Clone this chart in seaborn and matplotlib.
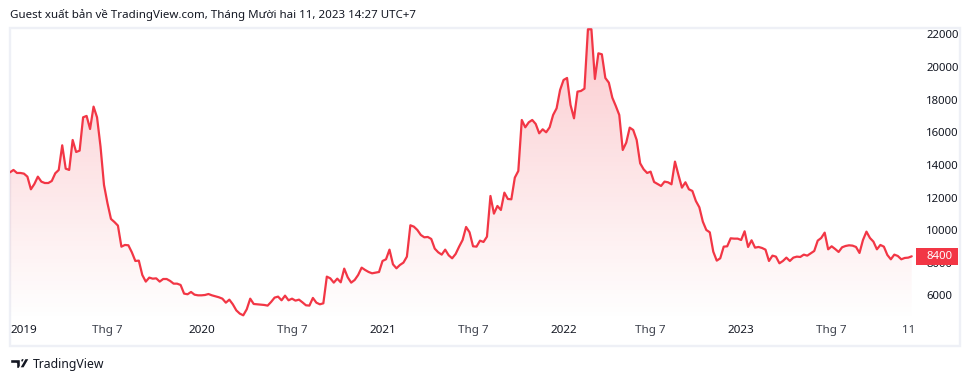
import numpy as np
import pandas as pd
import matplotlib
matplotlib.use("Agg")
import matplotlib.pyplot as plt
import matplotlib.dates as mdates
from matplotlib.colors import LinearSegmentedColormap
from matplotlib.patches import Rectangle, Polygon, Circle
import seaborn as sns

prices = [
    13546, 13690, 13505, 13505, 13465, 13280, 12505, 12830, 13280, 12975,
    12890, 12890, 13015, 13485, 13690, 15200, 13770, 13690, 15525, 14790,
    14875, 16915, 17000, 16200, 17570, 16915, 15120, 12770, 11650, 10690,
    10500, 10280, 8990, 9095, 9075, 8645, 8115, 8135, 7255, 6850,
    7095, 7030, 7050, 6850, 7010, 7010, 6890, 6725, 6725, 6645,
    6115, 6075, 6215, 6050, 6010, 6010, 6030, 6090, 6010, 5950,
    5890, 5805, 5560, 5745, 5460, 5090, 4890, 4785, 5155, 5805,
    5480, 5460, 5440, 5420, 5380, 5605, 5870, 5930, 5705, 5990,
    5705, 5805, 5685, 5745, 5580, 5400, 5380, 5850, 5560, 5460,
    5520, 7155, 7050, 6787, 7032, 6807, 7645, 7115, 6787, 6950,
    7257, 7706, 7563, 7440, 7359, 7400, 7440, 8114, 8217, 8808,
    7910, 7665, 7870, 8012, 8380, 10300, 10218, 10014, 9707, 9564,
    9585, 9462, 8870, 8645, 8503, 8808, 8462, 8278, 8543, 8992,
    9400, 10197, 9870, 9013, 8992, 9360, 9278, 9605, 12096, 11014,
    11484, 11239, 12300, 11912, 11892, 13220, 13628, 16752, 16303, 16609,
    16752, 16507, 15935, 16180, 15997, 16303, 17058, 17467, 18590, 19203,
    19325, 17671, 16854, 18488, 18529, 18672, 22306, 22306, 19264, 20836,
    20775, 19325, 19039, 18120, 17610, 17058, 14914, 15363, 16282, 16140,
    15527, 14097, 13730, 13505, 13587, 12954, 12832, 12709, 12975, 12934,
    12811, 14200, 13383, 12607, 12934, 12505, 12403, 11790, 11402, 10524,
    10014, 9870, 8686, 8135, 8278, 8992, 9013, 9503, 9483, 9483,
    9400, 9932, 8972, 9380, 8931, 8972, 8911, 8808, 8114, 8441,
    8380, 7972, 8114, 8319, 8114, 8319, 8380, 8360, 8503, 8441,
    8584, 8727, 9360, 9523, 9850, 8829, 9013, 8849, 8666, 8952,
    9033, 9074, 9054, 8972, 8605, 9400, 9911, 9523, 9299, 8829,
    9095, 8992, 8482, 8217, 8503, 8421, 8217, 8299, 8319, 8400,
]
tick_dates = ["2019-01-21", "2019-07-08", "2020-01-13", "2020-07-13", "2021-01-11", "2021-07-12",
              "2022-01-10", "2022-07-04", "2023-01-02", "2023-07-03", "2023-12-04"]
tick_labels = ["2019", "Thg 7", "2020", "Thg 7", "2021", "Thg 7", "2022", "Thg 7", "2023", "Thg 7", "11"]
price_ticks = [6000, 8000, 10000, 12000, 14000, 16000, 18000, 20000, 22000]
last_price = 8400
title = "Guest xuất bản về TradingView.com, Tháng Mười hai 11, 2023 14:27 UTC+7"

RED = "#f23645"
DARK = "#131722"

sns.set_theme(style="white")
plt.rcParams["font.family"] = ["Noto Sans", "DejaVu Sans"]

W, H = 980, 382
df = pd.DataFrame({"week": pd.date_range("2018-12-24", periods=len(prices), freq="7D"), "price": prices})

fig = plt.figure(figsize=(W / 100, H / 100), dpi=100)

# same px helper for everything placed by hand
def box(x0, y0, x1, y1):
    return [x0 / W, 1 - y1 / H, (x1 - x0) / W, (y1 - y0) / H]

ax = fig.add_axes(box(10, 28, 915.2, 321))
low, top = 4437, 22386

# gradient below the line
x0 = mdates.date2num(df["week"].iloc[0])
x1 = mdates.date2num(df["week"].iloc[-1])
area = ax.fill_between(df["week"], df["price"], low, color="none")
cmap = LinearSegmentedColormap.from_list("fade", [(0.949, 0.212, 0.271, 0.0), (0.949, 0.212, 0.271, 0.26)])
im = ax.imshow(np.linspace(1, 0, 256).reshape(-1, 1), extent=[x0, x1, low, top], aspect="auto",
               cmap=cmap, vmin=0, vmax=1, origin="upper", zorder=1)
im.set_clip_path(area.get_paths()[0], transform=ax.transData)

sns.lineplot(data=df, x="week", y="price", color=RED, linewidth=1.6, ax=ax, zorder=2)

ax.set_xlim(df["week"].iloc[0], df["week"].iloc[-1] + pd.Timedelta(days=7))
ax.set_ylim(low, top)
ax.set_xlabel("")
ax.set_ylabel("")
for s in ax.spines.values():
    s.set_visible(False)
ax.patch.set_alpha(0)

ax.yaxis.tick_right()
ax.set_yticks(price_ticks)
ax.set_yticklabels([str(p) for p in price_ticks])
ax.tick_params(axis="y", length=0, pad=7.8, labelsize=8.2, labelcolor=DARK)
ax.set_xticks(pd.to_datetime(tick_dates))
ax.set_xticklabels(tick_labels)
ax.tick_params(axis="x", length=0, pad=3, labelsize=8.4)
for lab in ax.get_xticklabels():
    if lab.get_text().startswith("Thg") or lab.get_text() == "11":
        lab.set_color("#3c404b")
    else:
        lab.set_color(DARK)
        lab.set_fontweight("medium")

# chart frame
frame = Rectangle((10 / W, 1 - 346 / H), 950 / W, 318 / H, transform=fig.transFigure, fill=False,
                  edgecolor="#eef0f6", linewidth=1.7, zorder=0)
fig.add_artist(frame)

# last price badge
fig.add_artist(Rectangle((916 / W, 1 - 265 / H), 42 / W, 17 / H, transform=fig.transFigure,
                         facecolor=RED, edgecolor="none", zorder=5))
fig.text(926 / W, 1 - 256.5 / H, str(last_price), color="white", fontsize=8.2, fontweight="medium",
         ha="left", va="center", zorder=6)

fig.text(10 / W, 1 - 15 / H, title, color=DARK, fontsize=8.3, ha="left", va="center")

# logo
logo = fig.add_axes(box(0, 340, 120, 380))
logo.set_xlim(0, 120)
logo.set_ylim(40, 0)
logo.axis("off")
logo.add_patch(Polygon([(10, 18.5), (20, 18.5), (20, 28), (15.5, 28), (15.5, 22.5), (10, 22.5)], facecolor=DARK))
logo.add_patch(Circle((22.7, 20.5), 2.1, facecolor=DARK))
logo.add_patch(Polygon([(24, 28), (19.5, 28), (25, 18.5), (29.5, 18.5)], facecolor=DARK))
logo.text(33, 24.5, "TradingView", color=DARK, fontsize=8.8, ha="left", va="center")

fig.savefig("out.png", dpi=100)
